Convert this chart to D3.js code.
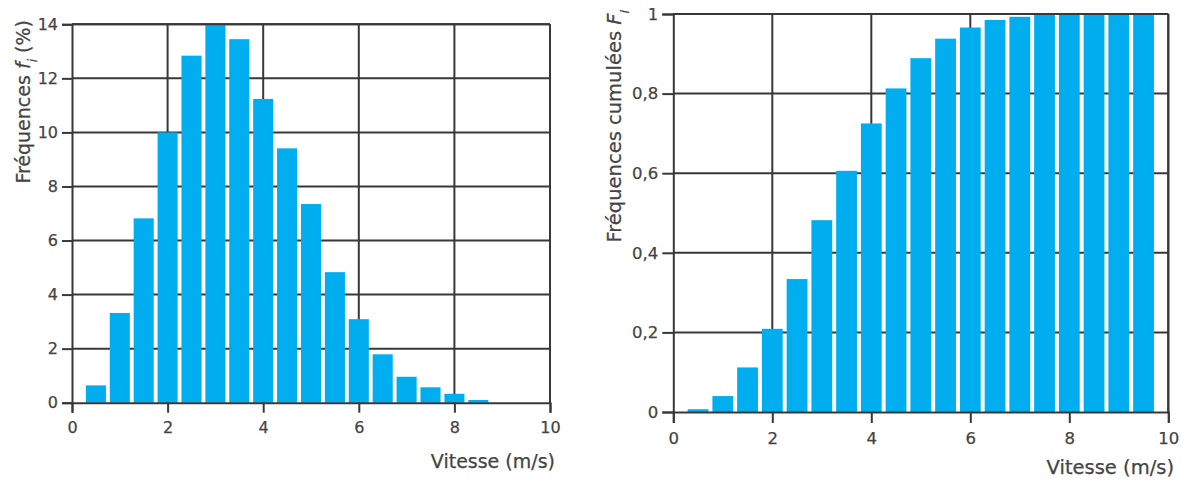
<!DOCTYPE html>
<html>
<head>
<meta charset="utf-8">
<script src="https://cdn.jsdelivr.net/npm/d3@7"></script>
<style>
  body { margin: 0; background: #fff; }
  text { font-family: "DejaVu Sans", sans-serif; fill: #444; stroke: #444; stroke-width: 0.25px; }
</style>
</head>
<body>
<svg id="chart" width="1183" height="481"></svg>
<script>
// bin centres (m/s) and values
var leftSpeeds = [0.5, 1, 1.5, 2, 2.5, 3, 3.5, 4, 4.5, 5, 5.5, 6, 6.5, 7, 7.5, 8, 8.5];
var leftFreq = [0.64, 3.32, 6.82, 10.0, 12.84, 14.0, 13.45, 11.24, 9.41, 7.35, 4.83, 3.09, 1.79, 0.96, 0.57, 0.33, 0.1];

var rightSpeeds = [0.5, 1, 1.5, 2, 2.5, 3, 3.5, 4, 4.5, 5, 5.5, 6, 6.5, 7, 7.5, 8, 8.5, 9, 9.5];
var rightCumul = [0.007, 0.04, 0.112, 0.209, 0.334, 0.482, 0.606, 0.725, 0.813, 0.889, 0.938, 0.966, 0.985, 0.993, 1, 1, 1, 1, 1];

var xTicks = [0, 2, 4, 6, 8, 10];
var leftYTicks = [0, 2, 4, 6, 8, 10, 12, 14];
var rightYTicks = [0, 0.2, 0.4, 0.6, 0.8, 1];
var rightYLabels = ["0", "0,2", "0,4", "0,6", "0,8", "1"];

var barColor = "#00aeef";
var lineColor = "#383838";

var svg = d3.select("#chart");

function drawPanel(p) {
  var x = d3.scaleLinear().domain([0, 10]).range([p.x0, p.x1]);
  var y = d3.scaleLinear().domain(p.yDomain).range([p.y0, p.y1]);
  var g = svg.append("g");

  // grid
  g.selectAll(".vgrid")
    .data(xTicks.slice(1))
    .enter().append("line")
    .attr("x1", function(d) { return x(d); })
    .attr("x2", function(d) { return x(d); })
    .attr("y1", p.y0).attr("y2", p.y1)
    .attr("stroke", lineColor).attr("stroke-width", 2);

  g.selectAll(".hgrid")
    .data(p.yTicks.slice(1))
    .enter().append("line")
    .attr("x1", p.x0).attr("x2", p.x1)
    .attr("y1", function(d) { return y(d); })
    .attr("y2", function(d) { return y(d); })
    .attr("stroke", lineColor).attr("stroke-width", 2);

  // bars
  g.selectAll(".bar")
    .data(p.speeds)
    .enter().append("rect")
    .attr("x", function(d) { return x(d - 0.21); })
    .attr("width", function(d) { return x(d + 0.21) - x(d - 0.21); })
    .attr("y", function(d, i) { return y(p.values[i]); })
    .attr("height", function(d, i) { return y(0) - y(p.values[i]); })
    .attr("fill", barColor);

  // axes
  var xAxis = g.append("g")
    .attr("transform", "translate(0," + p.y0 + ")")
    .call(d3.axisBottom(x).tickValues(xTicks).tickSize(p.tick).tickPadding(9).tickFormat(d3.format("d")));

  var yAxis = g.append("g")
    .attr("transform", "translate(" + p.x0 + ",0)")
    .call(d3.axisLeft(y).tickValues(p.yTicks).tickSize(p.tick).tickPadding(4)
      .tickFormat(function(d, i) { return p.yLabels[i]; }));

  [xAxis, yAxis].forEach(function(a) {
    a.select(".domain").attr("stroke", lineColor).attr("stroke-width", 2);
    a.selectAll(".tick line").attr("stroke", lineColor).attr("stroke-width", 2);
    a.selectAll(".tick text")
      .style("font-size", p.tickFont + "px")
      .attr("fill", "#444");
  });

  // top and right frame
  g.append("line")
    .attr("x1", p.x0).attr("x2", p.x1).attr("y1", p.y1).attr("y2", p.y1)
    .attr("stroke", lineColor).attr("stroke-width", 2);
  g.append("line")
    .attr("x1", p.x1).attr("x2", p.x1).attr("y1", p.y1).attr("y2", p.y0)
    .attr("stroke", lineColor).attr("stroke-width", 2);

  // x label
  g.append("text")
    .attr("x", p.xLabelX).attr("y", p.xLabelY)
    .attr("text-anchor", "end")
    .style("font-size", p.titleFont + "px")
    .text("Vitesse (m/s)");

  // y label, rotated, anchored near the top
  var t = g.append("text")
    .attr("text-anchor", "end")
    .attr("transform", "translate(" + p.yLabelX + "," + p.yLabelY + ")rotate(-90)")
    .style("font-size", p.titleFont + "px");
  t.append("tspan").text(p.yLabelText + " ");
  t.append("tspan").style("font-style", "italic").text(p.yLabelVar);
  t.append("tspan").attr("baseline-shift", "sub").style("font-size", (p.titleFont * 0.65) + "px")
    .style("font-style", "italic").text("i");
  if (p.yLabelUnit) {
    t.append("tspan").text(" " + p.yLabelUnit);
  }
}

drawPanel({
  x0: 72, x1: 550, y0: 402.7, y1: 24.3,
  yDomain: [0, 14], yTicks: leftYTicks,
  yLabels: leftYTicks.map(String),
  speeds: leftSpeeds, values: leftFreq,
  tick: 10, tickFont: 16, titleFont: 19,
  xLabelX: 555, xLabelY: 468,
  yLabelX: 30, yLabelY: 20,
  yLabelText: "Fréquences", yLabelVar: "f", yLabelUnit: "(%)"
});

drawPanel({
  x0: 673.3, x1: 1168.3, y0: 412, y1: 14,
  yDomain: [0, 1], yTicks: rightYTicks,
  yLabels: rightYLabels,
  speeds: rightSpeeds, values: rightCumul,
  tick: 11, tickFont: 16.5, titleFont: 19.5,
  xLabelX: 1174, xLabelY: 474,
  yLabelX: 621, yLabelY: 10,
  yLabelText: "Fréquences cumulées", yLabelVar: "F", yLabelUnit: ""
});
</script>
</body>
</html>
